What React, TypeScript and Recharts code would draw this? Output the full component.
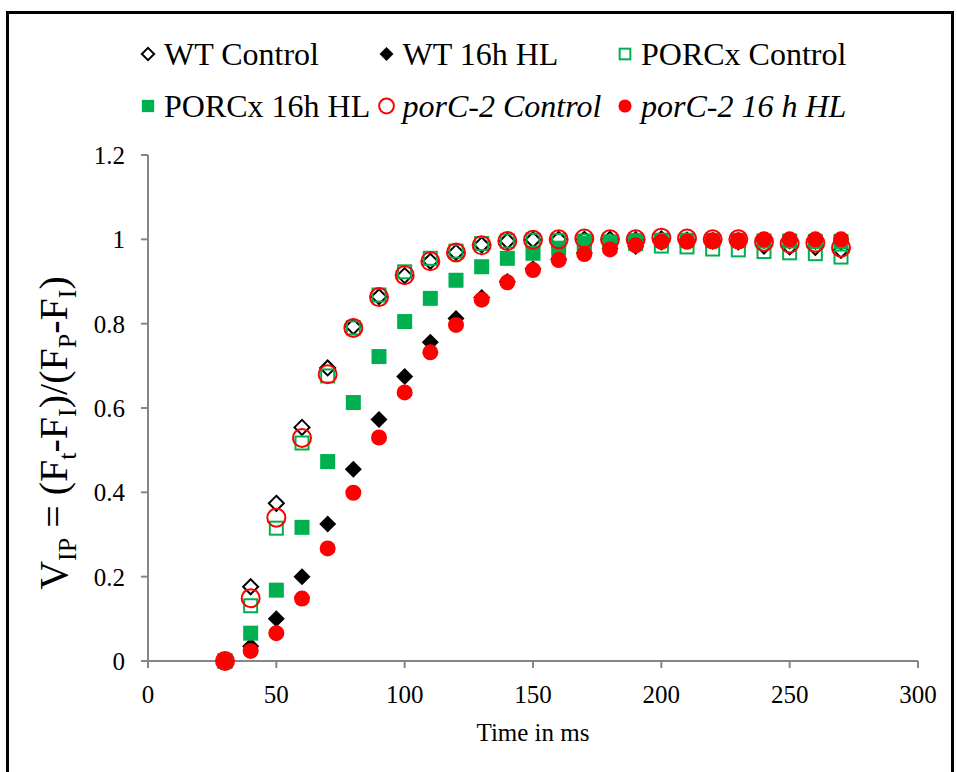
import React from 'react';
import { ScatterChart, Scatter, XAxis, YAxis, Legend } from 'recharts';

const times = [30, 40, 50, 60, 70, 80, 90, 100, 110, 120, 130, 140, 150, 160, 170, 180, 190, 200, 210, 220, 230, 240, 250, 260, 270];

const wtControl = [0, 0.176, 0.374, 0.554, 0.695, 0.793, 0.864, 0.914, 0.948, 0.969, 0.987, 0.996, 0.999, 1.0, 1.0, 1.0, 0.999, 1.001, 0.998, 0.996, 0.994, 0.984, 0.982, 0.981, 0.974];
const wt16hHL = [0, 0.035, 0.1, 0.2, 0.325, 0.455, 0.573, 0.675, 0.756, 0.812, 0.862, 0.9, 0.93, 0.953, 0.968, 0.978, 0.983, 0.993, 0.997, 0.998, 0.998, 0.997, 0.996, 0.995, 0.993];
const porcxControl = [0, 0.131, 0.315, 0.517, 0.676, 0.79, 0.868, 0.923, 0.955, 0.972, 0.99, 0.996, 0.998, 0.997, 0.996, 0.993, 0.99, 0.984, 0.982, 0.977, 0.975, 0.971, 0.968, 0.966, 0.958];
const porcx16hHL = [0, 0.066, 0.168, 0.317, 0.473, 0.613, 0.722, 0.805, 0.86, 0.903, 0.935, 0.955, 0.967, 0.979, 0.99, 0.994, 0.997, 0.998, 0.998, 0.997, 0.997, 0.996, 0.996, 0.995, 0.995];
const porc2Control = [0, 0.149, 0.34, 0.529, 0.68, 0.79, 0.863, 0.915, 0.948, 0.969, 0.986, 0.996, 0.999, 1.0, 1.002, 1.0, 1.0, 1.004, 1.002, 1.0, 1.0, 0.994, 0.99, 0.992, 0.98];
const porc216hHL = [0, 0.024, 0.066, 0.148, 0.267, 0.399, 0.53, 0.637, 0.732, 0.797, 0.857, 0.898, 0.927, 0.951, 0.965, 0.976, 0.986, 0.994, 0.994, 0.998, 0.998, 1.0, 1.0, 1.0, 1.0];

const xTicks = [0, 50, 100, 150, 200, 250, 300];
const yTicks = [0, 0.2, 0.4, 0.6, 0.8, 1, 1.2];

const GREEN = '#00B050';
const RED = '#FF0000';
const FONT = '"Liberation Serif", "Times New Roman", serif';
const AXIS = '#868686';

const toPoints = (ys: number[]) => times.map((t, i) => ({ x: t, y: ys[i] }));

type Kind = 'openDiamond' | 'diamond' | 'openSquare' | 'square' | 'openCircle' | 'circle';

function Marker({ kind, cx, cy, s = 1 }: { kind: Kind; cx: number; cy: number; s?: number }) {
  switch (kind) {
    case 'openDiamond': {
      const h = 7.5 * s;
      return <polygon points={`${cx},${cy - h} ${cx + h},${cy} ${cx},${cy + h} ${cx - h},${cy}`} fill="#fff" stroke="#000" strokeWidth={2} />;
    }
    case 'diamond': {
      const h = 8.5 * s;
      return <polygon points={`${cx},${cy - h} ${cx + h},${cy} ${cx},${cy + h} ${cx - h},${cy}`} fill="#000" />;
    }
    case 'openSquare': {
      const h = 6.5 * s;
      return <rect x={cx - h} y={cy - h} width={2 * h} height={2 * h} fill="none" stroke={GREEN} strokeWidth={2} />;
    }
    case 'square': {
      const h = 7.5 * s;
      return <rect x={cx - h} y={cy - h} width={2 * h} height={2 * h} fill={GREEN} />;
    }
    case 'openCircle':
      return <circle cx={cx} cy={cy} r={9 * s} fill="none" stroke={RED} strokeWidth={2} />;
    default:
      return <circle cx={cx} cy={cy} r={8 * s} fill={RED} />;
  }
}

const series: { name: string; kind: Kind; values: number[]; italic: boolean }[] = [
  { name: 'WT Control', kind: 'openDiamond', values: wtControl, italic: false },
  { name: 'WT 16h HL', kind: 'diamond', values: wt16hHL, italic: false },
  { name: 'PORCx Control', kind: 'openSquare', values: porcxControl, italic: false },
  { name: 'PORCx 16h HL', kind: 'square', values: porcx16hHL, italic: false },
  { name: 'porC-2 Control', kind: 'openCircle', values: porc2Control, italic: true },
  { name: 'porC-2 16 h HL', kind: 'circle', values: porc216hHL, italic: true },
];

function LegendBox() {
  return (
    <svg width={957} height={140} style={{ display: 'block' }}>
      {series.map((s, i) => {
        const col = i % 3;
        const row = Math.floor(i / 3);
        const cx = 148 + col * 238.5;
        const cy = 54 + row * 52;
        return (
          <g key={s.name}>
            <Marker kind={s.kind} cx={cx} cy={cy} s={0.82} />
            <text
              x={cx + 16}
              y={cy + 11}
              fontFamily={FONT}
              fontSize={32}
              fontStyle={s.italic ? 'italic' : 'normal'}
              fill="#000"
            >
              {s.name}
            </text>
          </g>
        );
      })}
    </svg>
  );
}

function YLabel() {
  const sub = { fontSize: 26 };
  return (
    <text transform="rotate(-90)" x={-433} y={67} textAnchor="middle" fontFamily={FONT} fontSize={40} fill="#000">
      V<tspan dy={9} {...sub}>IP</tspan>
      <tspan dy={-9}> = (F</tspan>
      <tspan dy={9} {...sub}>t</tspan>
      <tspan dy={-9}>-F</tspan>
      <tspan dy={9} {...sub}>I</tspan>
      <tspan dy={-9}>)/(F</tspan>
      <tspan dy={9} {...sub}>P</tspan>
      <tspan dy={-9}>-F</tspan>
      <tspan dy={9} {...sub}>I</tspan>
      <tspan dy={-9}>)</tspan>
    </text>
  );
}

function XLabel() {
  return (
    <text x={533} y={741} textAnchor="middle" fontFamily={FONT} fontSize={25} fill="#000">
      Time in ms
    </text>
  );
}

export default function App() {
  const tickStyle = { fill: '#000', fontSize: 25, fontFamily: FONT };
  return (
    <div style={{ position: 'absolute', left: 0, top: 0, width: 957, height: 772, overflow: 'hidden', background: '#fff' }}>
      <div
        style={{
          position: 'absolute',
          left: 6,
          top: 11,
          width: 948,
          height: 800,
          border: '3px solid #000',
          boxSizing: 'border-box',
        }}
      />
      <ScatterChart width={957} height={772} margin={{ top: 155, right: 39, bottom: 0, left: 0 }}>
        <XAxis
          type="number"
          dataKey="x"
          domain={[0, 300]}
          ticks={xTicks}
          height={111}
          stroke={AXIS}
          strokeWidth={2}
          tickSize={7}
          tickMargin={17}
          tick={tickStyle}
          label={<XLabel />}
        />
        <YAxis
          type="number"
          dataKey="y"
          domain={[0, 1.2]}
          ticks={yTicks}
          width={148}
          stroke={AXIS}
          strokeWidth={2}
          tickSize={7}
          tickMargin={16}
          tick={tickStyle}
          label={<YLabel />}
        />
        <Legend
          layout="horizontal"
          verticalAlign="middle"
          align="center"
          wrapperStyle={{ top: 0, left: 0, width: 957 }}
          content={() => <LegendBox />}
        />
        {series.map((s) => (
          <Scatter
            key={s.name}
            name={s.name}
            data={toPoints(s.values)}
            isAnimationActive={false}
            shape={(p: any) => <Marker kind={s.kind} cx={p.cx} cy={p.cy} />}
          />
        ))}
      </ScatterChart>
    </div>
  );
}
